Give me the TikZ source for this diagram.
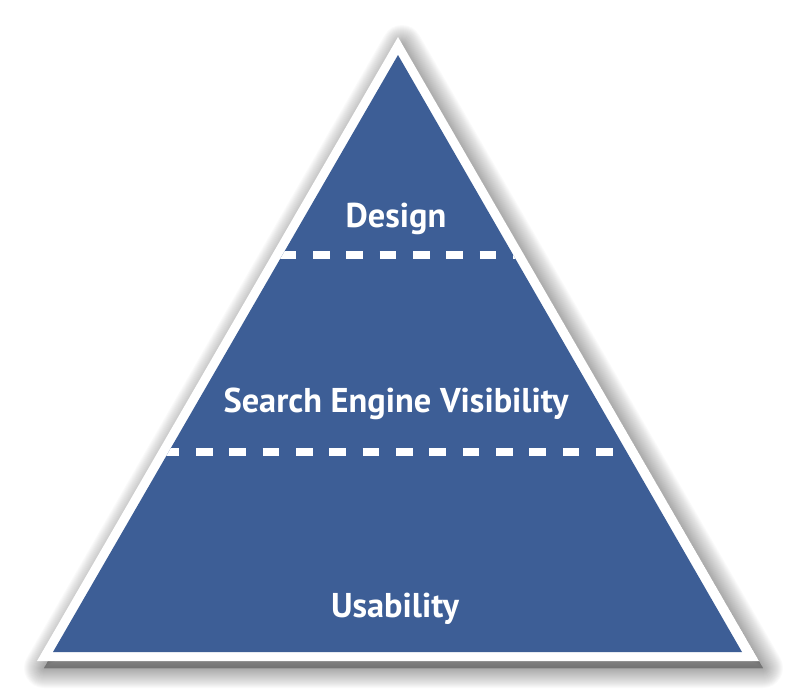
\documentclass[tikz,border=0pt]{standalone}
\usepackage{fontspec}
\setsansfont{PT Sans}
\definecolor{pyrblue}{HTML}{3D5E96}

\begin{document}
\begin{tikzpicture}[x=1pt,y=-1pt,
  layer/.style={font=\sffamily\bfseries\fontsize{34.4}{40}\selectfont,text=white,anchor=base},
  divider/.style={white,line width=8pt,dash pattern=on 16.67pt off 16.67pt}]
 \useasboundingbox (0,0) rectangle (796,699);
 \coordinate (top) at (398,55);
 \coordinate (left) at (53,652);
 \coordinate (right) at (742,652);

 % soft shadow
 \foreach \w in {1,...,20}
   \filldraw[black,opacity=0.018,line join=round,line width=2*\w pt]
     (402,45) -- (44,668) -- (763,668) -- cycle;

 \fill[white] (398,37) -- (37,661) -- (759,661) -- cycle;
 \fill[pyrblue] (top) -- (left) -- (right) -- cycle;

 \coordinate (d1a) at (279.7,255);  \coordinate (d1b) at (520,255);
 \coordinate (d2a) at (162.7,452);  \coordinate (d2b) at (640,452);
 \begin{scope}
  \clip (top) -- (left) -- (right) -- cycle;
  \draw[divider] (d1a) -- (d1b);
  \draw[divider] (d2a) -- (d2b);
 \end{scope}

 \node[layer] (design) at (396,227) {Design};
 \node[layer] (search) at (396,412) {Search Engine Visibility};
 \node[layer] (usability) at (395,617) {Usability};
\end{tikzpicture}
\end{document}
